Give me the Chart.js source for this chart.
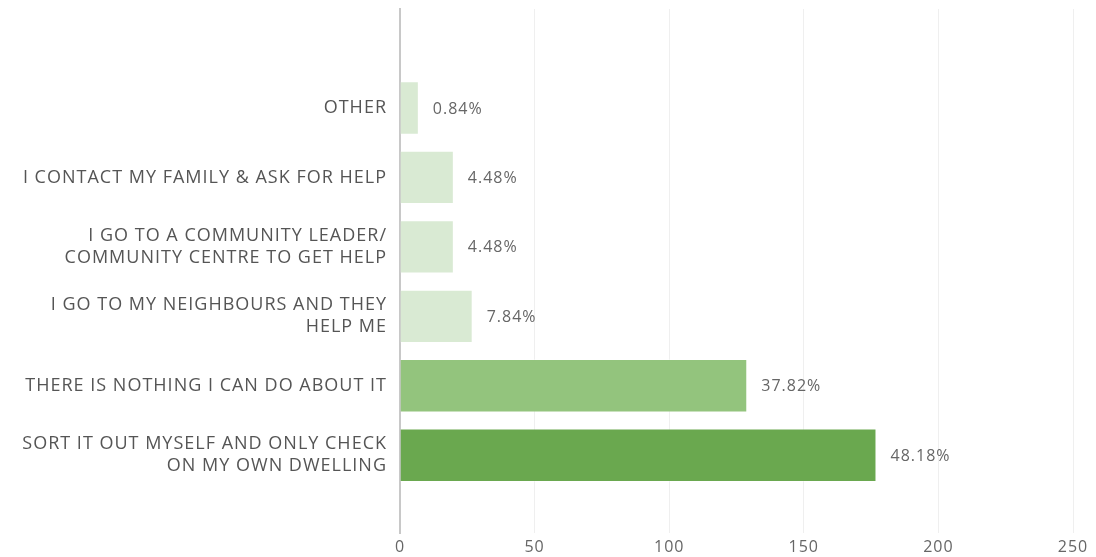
<!DOCTYPE html>
<html>
<head>
<meta charset="utf-8">
<script src="https://cdn.jsdelivr.net/npm/chart.js@4.4.0/dist/chart.umd.min.js"></script>
<style>
  body { margin: 0; background: #fff; }
</style>
</head>
<body>
<canvas id="myChart" width="1096" height="557"></canvas>
<script>
// answers, top to bottom
var respostas = [
    ["OTHER"],
    ["I CONTACT MY FAMILY & ASK FOR HELP"],
    ["I GO TO A COMMUNITY LEADER/", "COMMUNITY CENTRE TO GET HELP"],
    ["I GO TO MY NEIGHBOURS AND THEY", "HELP ME"],
    ["THERE IS NOTHING I CAN DO ABOUT IT"],
    ["SORT IT OUT MYSELF AND ONLY CHECK", "ON MY OWN DWELLING"]
];
var contagem = [7, 20, 20, 27, 129, 177];
var percentuais = ["0.84%", "4.48%", "4.48%", "7.84%", "37.82%", "48.18%"];
var cores = ["#d9ead3", "#d9ead3", "#d9ead3", "#d9ead3", "#93c47d", "#6aa84f"];
var ticksX = [0, 50, 100, 150, 200, 250];

var fonte = "'Open Sans', sans-serif";

var pontos = contagem.map(function (v, i) {
    return { x: v, y: i };
});

// wider letter spacing for all canvas text
var espacamento = {
    id: "espacamento",
    beforeLayout: function (chart) { chart.ctx.letterSpacing = "1px"; },
    beforeDraw: function (chart) { chart.ctx.letterSpacing = "1px"; }
};

// percent text to the right of each bar
var rotulosBarras = {
    id: "rotulosBarras",
    afterDatasetsDraw: function (chart) {
        var ctx = chart.ctx;
        var meta = chart.getDatasetMeta(0);
        ctx.save();
        ctx.font = "16px " + fonte;
        ctx.fillStyle = "#666666";
        ctx.textAlign = "left";
        ctx.textBaseline = "middle";
        meta.data.forEach(function (bar, i) {
            ctx.fillText(percentuais[i], bar.x + 14, bar.y + 1);
        });
        ctx.restore();
    }
};

var ctx = document.getElementById("myChart").getContext("2d");
var myChart = new Chart(ctx, {
    type: "bar",
    data: {
        datasets: [
            {
                data: pontos,
                backgroundColor: cores,
                borderColor: "rgba(255,255,255,0.35)",
                borderWidth: 1,
                barPercentage: 0.96,
                categoryPercentage: 0.8,
            },
        ],
    },
    plugins: [espacamento, rotulosBarras],
    options: {
        indexAxis: "y",
        responsive: false,
        animation: false,
        layout: { padding: { top: 9, right: 23, bottom: 0, left: 0 } },
        plugins: {
            legend: { display: false },
            tooltip: { enabled: false },
        },
        scales: {
            x: {
                type: "linear",
                min: 0,
                max: 250,
                afterBuildTicks: function (scale) {
                    scale.ticks = ticksX.map(function (v) { return { value: v }; });
                },
                afterFit: function (scale) {
                    scale.height = 24;
                },
                grid: { color: "#efefef", lineWidth: 1, drawTicks: false },
                border: { display: false },
                ticks: {
                    color: "#666666",
                    font: { family: fonte, size: 16 },
                    padding: 5,
                },
            },
            y: {
                type: "linear",
                bounds: "data",
                offset: false,
                reverse: true,
                min: -1.425,
                max: 6.12,
                afterBuildTicks: function (scale) {
                    scale.ticks = respostas.map(function (r, i) { return { value: i }; });
                },
                afterFit: function (scale) {
                    scale.width = 400;
                    scale.paddingTop = 0;
                    scale.paddingBottom = 0;
                },
                grid: { display: false, drawTicks: false, offset: false },
                border: { display: true, color: "#c8c8c8", width: 2 },
                ticks: {
                    color: "#555555",
                    font: { family: fonte, size: 18, lineHeight: 1.22 },
                    padding: 13,
                    callback: function (v) {
                        return respostas[v];
                    },
                },
            },
        },
    },
});
</script>
</body>
</html>
